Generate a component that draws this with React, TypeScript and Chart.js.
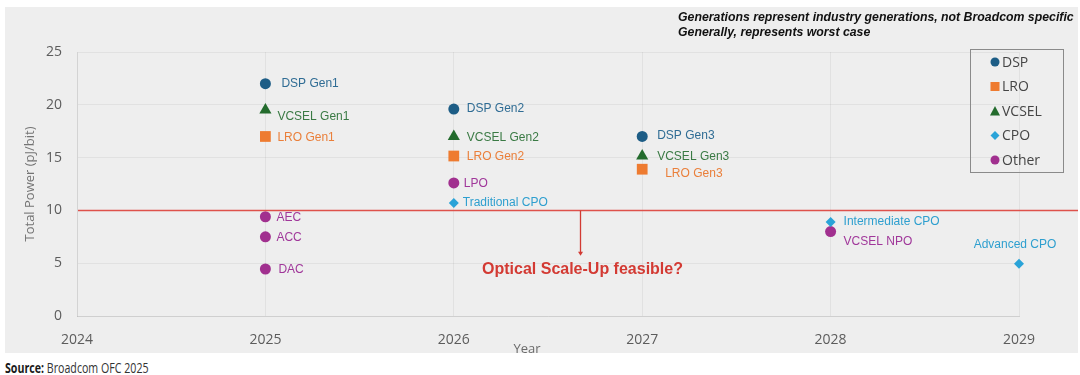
import React, { useEffect, useRef } from "react";
import { Chart, registerables } from "chart.js";

Chart.register(...registerables);

// ---------- data ----------
const yearTicks = [2024, 2025, 2026, 2027, 2028, 2029];

const dspYears = [2025, 2026, 2027];
const dspValues = [22, 19.6, 17];
const dspLabels = ["DSP Gen1", "DSP Gen2", "DSP Gen3"];

const lroYears = [2025, 2026, 2027];
const lroValues = [17, 15.15, 13.9];
const lroLabels = ["LRO Gen1", "LRO Gen2", "LRO Gen3"];

const vcselYears = [2025, 2026, 2027];
const vcselValues = [19.5, 17, 15.15];
const vcselLabels = ["VCSEL Gen1", "VCSEL Gen2", "VCSEL Gen3"];

const cpoYears = [2026, 2028, 2029];
const cpoValues = [10.7, 8.9, 4.95];
const cpoLabels = ["Traditional CPO", "Intermediate CPO", "Advanced CPO"];

const otherYears = [2025, 2025, 2025, 2026, 2028];
const otherValues = [9.4, 7.5, 4.45, 12.6, 8.0];
const otherLabels = ["AEC", "ACC", "DAC", "LPO", "VCSEL NPO"];

const thresholdValue = 10;
const arrowYear = 2026.67;
const arrowEndValue = 5.7;
const calloutValue = 4.35;
const calloutText = "Optical Scale-Up feasible?";
const noteLines = [
  "Generations represent industry generations, not Broadcom specific",
  "Generally, represents worst case",
];
const legendNames = ["DSP", "LRO", "VCSEL", "CPO", "Other"];

// ---------- styles ----------
const COLORS = {
  DSP: "#1d5d86",
  LRO: "#ee7b30",
  VCSEL: "#236b2d",
  CPO: "#2aa3d8",
  Other: "#a1308f",
};
const LABEL_COLORS = {
  DSP: "#2f6c94",
  LRO: "#ea7f3a",
  VCSEL: "#3a7a44",
  CPO: "#2e9fcf",
  Other: "#a0379a",
};
const POINT_STYLE = {
  DSP: { style: "circle", r: 5.5 },
  LRO: { style: "rect", r: 7.6 },
  VCSEL: { style: "triangle", r: 7 },
  CPO: { style: "rectRot", r: 5 },
  Other: { style: "circle", r: 5.5 },
};
// label offsets in px relative to marker: [dx, dy, align]
const labelOffsets: Record<string, [number, number, CanvasTextAlign?]> = {
  "DSP Gen1": [16, 0],
  "VCSEL Gen1": [12, 7],
  "LRO Gen1": [12, 1],
  "DSP Gen2": [13, 0],
  "VCSEL Gen2": [13, 1],
  "LRO Gen2": [13, 1],
  "DSP Gen3": [15, -1],
  "VCSEL Gen3": [15, 1],
  "LRO Gen3": [23, 4],
  "Traditional CPO": [9, 0],
  "Intermediate CPO": [13, 0],
  "Advanced CPO": [-4, -19, "center"],
  AEC: [11, 1],
  ACC: [11, 1],
  DAC: [13, 1],
  LPO: [10, 1],
  "VCSEL NPO": [13, 10],
};

const PANEL_BG = "#eeeeee";

function mk(name: string, xs: number[], ys: number[], labels: string[]) {
  const ps = (POINT_STYLE as any)[name];
  return {
    label: name,
    data: xs.map((x, i) => ({ x, y: ys[i] })),
    pointLabels: labels,
    labelColor: (LABEL_COLORS as any)[name],
    backgroundColor: (COLORS as any)[name],
    borderColor: (COLORS as any)[name],
    pointStyle: ps.style,
    pointRadius: ps.r,
    pointHoverRadius: ps.r,
    pointBorderWidth: 0,
    showLine: false,
    clip: false,
  };
}

const overlayPlugin = {
  id: "overlay",
  beforeDraw(chart: any) {
    const ctx = chart.ctx;
    ctx.save();
    ctx.fillStyle = PANEL_BG;
    ctx.fillRect(0, 0, chart.width, chart.height);
    ctx.restore();
  },
  afterDatasetsDraw(chart: any) {
    const ctx = chart.ctx;
    const xs = chart.scales.x;
    const ys = chart.scales.y;
    const ca = chart.chartArea;
    ctx.save();

    // threshold line
    const ty = Math.round(ys.getPixelForValue(thresholdValue)) + 0.5;
    ctx.strokeStyle = "#de514b";
    ctx.lineWidth = 1.3;
    ctx.beginPath();
    ctx.moveTo(ca.left + 1, ty);
    ctx.lineTo(chart.width, ty);
    ctx.stroke();

    // arrow
    const ax = Math.round(xs.getPixelForValue(arrowYear)) + 0.5;
    const ay2 = ys.getPixelForValue(arrowEndValue);
    ctx.strokeStyle = "#d23a33";
    ctx.lineWidth = 1.3;
    ctx.beginPath();
    ctx.moveTo(ax, ty);
    ctx.lineTo(ax, ay2 - 3);
    ctx.stroke();
    ctx.fillStyle = "#d23a33";
    ctx.beginPath();
    ctx.moveTo(ax - 2.5, ay2 - 4);
    ctx.lineTo(ax + 2.5, ay2 - 4);
    ctx.lineTo(ax, ay2);
    ctx.closePath();
    ctx.fill();

    // callout text
    ctx.font = "bold 16px 'Liberation Sans', Arial, sans-serif";
    ctx.fillStyle = "#d33a33";
    ctx.textAlign = "center";
    ctx.textBaseline = "middle";
    ctx.fillText(calloutText, ax + 2, ys.getPixelForValue(calloutValue));

    // point labels
    ctx.font = "12px 'Liberation Sans', Arial, sans-serif";
    chart.data.datasets.forEach((ds: any, di: number) => {
      const meta = chart.getDatasetMeta(di);
      meta.data.forEach((pt: any, i: number) => {
        const txt = ds.pointLabels[i];
        const off = labelOffsets[txt] || [10, 0];
        ctx.fillStyle = ds.labelColor;
        ctx.textAlign = off[2] || "left";
        ctx.textBaseline = "middle";
        ctx.fillText(txt, pt.x + off[0], pt.y + off[1]);
      });
    });

    // notes (top right)
    ctx.fillStyle = "#111111";
    ctx.textAlign = "left";
    ctx.textBaseline = "middle";
    ctx.font = "italic bold 12.3px 'Liberation Sans', Arial, sans-serif";
    ctx.fillText(noteLines[0], 673, 11);
    ctx.fillText(noteLines[1], 673, 26);

    // legend box
    const lx = 965.5, lyTop = 42.5, lw = 93, lh = 123;
    ctx.strokeStyle = "#8a8a8a";
    ctx.lineWidth = 1;
    ctx.strokeRect(lx, lyTop, lw, lh);
    ctx.font = "14px 'Open Sans', sans-serif";
    legendNames.forEach((name, i) => {
      const cy = 55 + i * 24.5;
      const cx = 990;
      const col = (COLORS as any)[name];
      ctx.fillStyle = col;
      ctx.beginPath();
      const st = (POINT_STYLE as any)[name].style;
      if (st === "circle") {
        ctx.arc(cx, cy, 4.5, 0, Math.PI * 2);
      } else if (st === "rect") {
        ctx.rect(cx - 4.5, cy - 4.5, 9, 9);
      } else if (st === "triangle") {
        ctx.moveTo(cx - 5, cy + 4.5);
        ctx.lineTo(cx + 5, cy + 4.5);
        ctx.lineTo(cx, cy - 5);
        ctx.closePath();
      } else {
        ctx.moveTo(cx, cy - 4.5);
        ctx.lineTo(cx + 4.5, cy);
        ctx.lineTo(cx, cy + 4.5);
        ctx.lineTo(cx - 4.5, cy);
        ctx.closePath();
      }
      ctx.fill();
      ctx.fillStyle = "#454545";
      ctx.textAlign = "left";
      ctx.textBaseline = "middle";
      ctx.fillText(name, 997, cy + 1);
    });

    // x title (cut by panel bottom)
    ctx.font = "13px 'Open Sans', sans-serif";
    ctx.fillStyle = "#6a6a6a";
    ctx.textAlign = "center";
    ctx.textBaseline = "top";
    ctx.fillText("Year", 522, 336);

    ctx.restore();
  },
};

export default function App() {
  const ref = useRef<HTMLCanvasElement>(null);
  useEffect(() => {
    if (!ref.current) return;
    const chart = new Chart(ref.current, {
      type: "scatter",
      data: {
        datasets: [
          mk("DSP", dspYears, dspValues, dspLabels),
          mk("LRO", lroYears, lroValues, lroLabels),
          mk("VCSEL", vcselYears, vcselValues, vcselLabels),
          mk("CPO", cpoYears, cpoValues, cpoLabels),
          mk("Other", otherYears, otherValues, otherLabels),
        ] as any,
      },
      options: {
        animation: false,
        responsive: false,
        maintainAspectRatio: false,
        layout: { padding: { top: 45, right: 59, bottom: 0, left: 0 } },
        plugins: {
          legend: { display: false },
          tooltip: { enabled: false },
        },
        scales: {
          x: {
            type: "linear",
            min: yearTicks[0],
            max: yearTicks[yearTicks.length - 1],
            afterFit: (s: any) => {
              s.height = 37;
            },
            afterBuildTicks: (s: any) => {
              s.ticks = yearTicks.map((v) => ({ value: v }));
            },
            ticks: {
              callback: (v: any) => String(v),
              color: "#5c5c5c",
              font: { family: "'Open Sans', sans-serif", size: 14 },
              padding: 16,
              maxRotation: 0,
            },
            grid: {
              color: "rgba(0,0,0,0.05)",
              drawTicks: false,
            },
            border: { color: "#cfcfcf", width: 1 },
          },
          y: {
            min: 0,
            max: 25,
            afterFit: (s: any) => {
              s.width = 72;
            },
            ticks: {
              stepSize: 5,
              color: "#5c5c5c",
              font: { family: "'Open Sans', sans-serif", size: 14 },
              padding: 15,
            },
            grid: {
              color: "rgba(0,0,0,0.05)",
              drawTicks: false,
            },
            border: { color: "rgba(0,0,0,0.06)", width: 1 },
            title: {
              display: true,
              text: "Total Power (pJ/bit)",
              color: "#747474",
              font: { family: "'Open Sans', sans-serif", size: 13 },
              padding: { top: 17, bottom: 0 },
            },
          },
        },
      },
      plugins: [overlayPlugin],
    } as any);
    return () => chart.destroy();
  }, []);

  return (
    <div
      style={{
        position: "absolute",
        left: 0,
        top: 0,
        width: 1080,
        height: 375,
        background: "#ffffff",
        overflow: "hidden",
      }}
    >
      <canvas
        ref={ref}
        width={1073}
        height={346}
        style={{ position: "absolute", left: 5, top: 7, width: 1073, height: 346 }}
      />
      <div
        style={{
          position: "absolute",
          left: 5,
          top: 359,
          fontFamily: "'Open Sans', sans-serif",
          fontSize: 14,
          color: "#333",
          whiteSpace: "nowrap",
          lineHeight: "17px",
          transform: "scaleX(0.76)",
          transformOrigin: "left top",
        }}
      >
        <b style={{ color: "#1a1a1a" }}>Source:</b> Broadcom OFC 2025
      </div>
    </div>
  );
}
